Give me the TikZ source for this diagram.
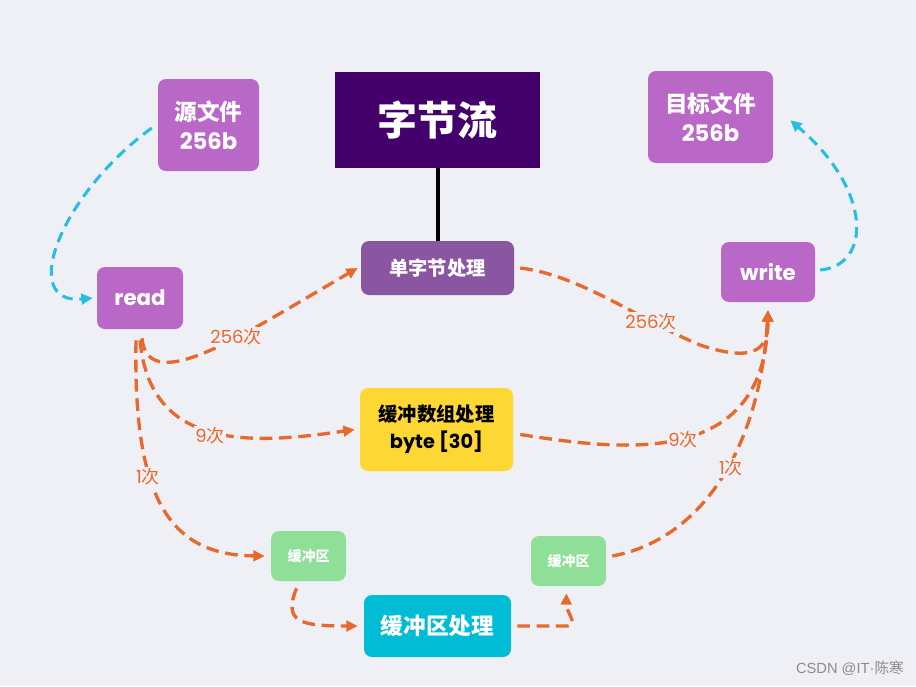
\documentclass[tikz,border=0pt]{standalone}
\usepackage{fontspec}
\setmainfont{Poppins}
\newfontfamily\cjk{Noto Sans CJK SC}
\newfontfamily\wmfont{Liberation Sans}
\usetikzlibrary{arrows.meta,calc}
\definecolor{bg}{HTML}{EFF0F5}
\definecolor{orng}{HTML}{E8692C}
\definecolor{cyn}{HTML}{26BFE0}
\definecolor{pbox}{HTML}{BA68C8}
\definecolor{pdark}{HTML}{44006B}
\definecolor{pmid}{HTML}{8B56A1}
\definecolor{ylw}{HTML}{FDD835}
\definecolor{grn}{HTML}{90DF98}
\definecolor{blu}{HTML}{00BCD4}
\tikzset{
  box/.style={rounded corners=6pt, inner sep=0pt, align=center, text=white},
  oarrow/.style={draw=orng, line width=2.5pt, dash pattern=on 9.5pt off 5pt,
    -{Triangle[length=8.5pt,width=8pt]}},
  carrow/.style={draw=cyn, line width=2.3pt, dash pattern=on 8pt off 5pt,
    -{Triangle[length=8.5pt,width=8pt]}},
  lbl/.style={fill=bg, text=orng, inner sep=1pt, font=\fontsize{13.5}{15}\selectfont},
}
\newcommand{\zh}[1]{{\cjk\bfseries #1}}
\begin{document}
\begin{tikzpicture}[x=0.75pt,y=-0.75pt]
\fill[bg] (0,0) rectangle (916,686);
\useasboundingbox (0,0) rectangle (916,686);

% nodes
\node[box, fill=pbox, minimum width=75.75pt, minimum height=69pt,
  font=\fontsize{17}{22}\selectfont\bfseries] (src) at (208.5,125) {\zh{源文件}\\256b};
\node[fill=pdark, inner sep=0pt, text=white, minimum width=153.75pt, minimum height=72pt,
  font=\fontsize{30}{34}\selectfont] (flow) at (437.5,120) {\zh{字节流}};
\node[box, fill=pbox, minimum width=93.75pt, minimum height=69pt,
  font=\fontsize{17}{22}\selectfont\bfseries] (tgt) at (710.5,117) {\zh{目标文件}\\256b};
\node[box, fill=pbox, minimum width=64.5pt, minimum height=46.5pt,
  font=\fontsize{16}{18}\selectfont\bfseries] (read) at (140,298) {read};
\node[box, fill=pmid, minimum width=114.75pt, minimum height=40.5pt,
  font=\fontsize{14.5}{17}\selectfont] (single) at (437.5,268) {\zh{单字节处理}};
\node[box, fill=pbox, minimum width=70.5pt, minimum height=45pt,
  font=\fontsize{16}{18}\selectfont\bfseries] (write) at (768,272) {write};
\node[box, fill=ylw, text=black, minimum width=114.75pt, minimum height=62.25pt,
  font=\fontsize{14.5}{20}\selectfont\bfseries] (arr) at (436.5,429.5) {\zh{缓冲数组处理}\\byte [30]};
\node[box, fill=grn, minimum width=56.25pt, minimum height=37.5pt,
  font=\fontsize{10.5}{12}\selectfont] (bufL) at (308.5,556) {\zh{缓冲区}};
\node[box, fill=grn, minimum width=56.25pt, minimum height=37.5pt,
  font=\fontsize{10.5}{12}\selectfont] (bufR) at (568.5,561) {\zh{缓冲区}};
\node[box, fill=blu, minimum width=110.25pt, minimum height=46.5pt,
  font=\fontsize{17}{20}\selectfont] (bufP) at (437.5,626) {\zh{缓冲区处理}};
\node[text=black!45, inner sep=0pt, font=\wmfont\fontsize{11}{12}\selectfont] (wm) at (850,668)
  {CSDN @IT\textperiodcentered{\cjk 陈寒}};

\coordinate (tgtin) at ($(tgt.south east)+(17,-43)$);

% black connector
\draw[line width=3pt, black] (flow.south) -- (single.north);

% cyan connectors
\draw[carrow] ($(src.west)+(-6,3)$) .. controls (60,195) and (18,305) .. ($(read.west)+(-4,0)$);
\draw[carrow] ($(write.east)+(5,-2)$) .. controls (872,265) and (872,190) .. (tgtin);

% orange connectors
\draw[oarrow] ($(read.south)+(2,9)$) .. controls (148,400) and (250,330) .. ($(single.west)+(-3,0)$);
\draw[oarrow] ($(single.east)+(6,0)$) .. controls (580,275) and (640,320) .. (700,345)
   .. controls (760,365) and (768,345) .. ($(write.south)+(0,8)$);
\draw[oarrow] ($(read.south)+(0,11)$) .. controls (150,450) and (250,445) .. ($(arr.west)+(-5,0)$);
\draw[oarrow] ($(arr.east)+(7,5)$) .. controls (620,450) and (765,470) .. ($(write.south)+(0,8)$);
\draw[oarrow] ($(read.south)+(-4,11)$) .. controls (133,500) and (170,555) .. ($(bufL.west)+(-6,0)$);
\draw[oarrow] ($(bufR.east)+(6,-5)$) .. controls (700,540) and (760,450) .. ($(write.south)+(0,8)$);
\draw[oarrow] ($(bufL.south)+(-12,7)$) .. controls (283,622) and (300,626) .. ($(bufP.west)+(-6,0)$);
\draw[oarrow] ($(bufP.east)+(6,0)$) -- (566,626) .. controls (580,626) and (566,612) .. ($(bufR.south)+(-2,7)$);

% labels
\node[lbl] (l1) at (236,337) {256{\cjk 次}};
\node[lbl] (l2) at (651,322) {256{\cjk 次}};
\node[lbl] (l3) at (210,436) {9{\cjk 次}};
\node[lbl] (l4) at (683,440) {9{\cjk 次}};
\node[lbl] (l5) at (148,477) {1{\cjk 次}};
\node[lbl] (l6) at (731,468) {1{\cjk 次}};
\end{tikzpicture}
\end{document}
